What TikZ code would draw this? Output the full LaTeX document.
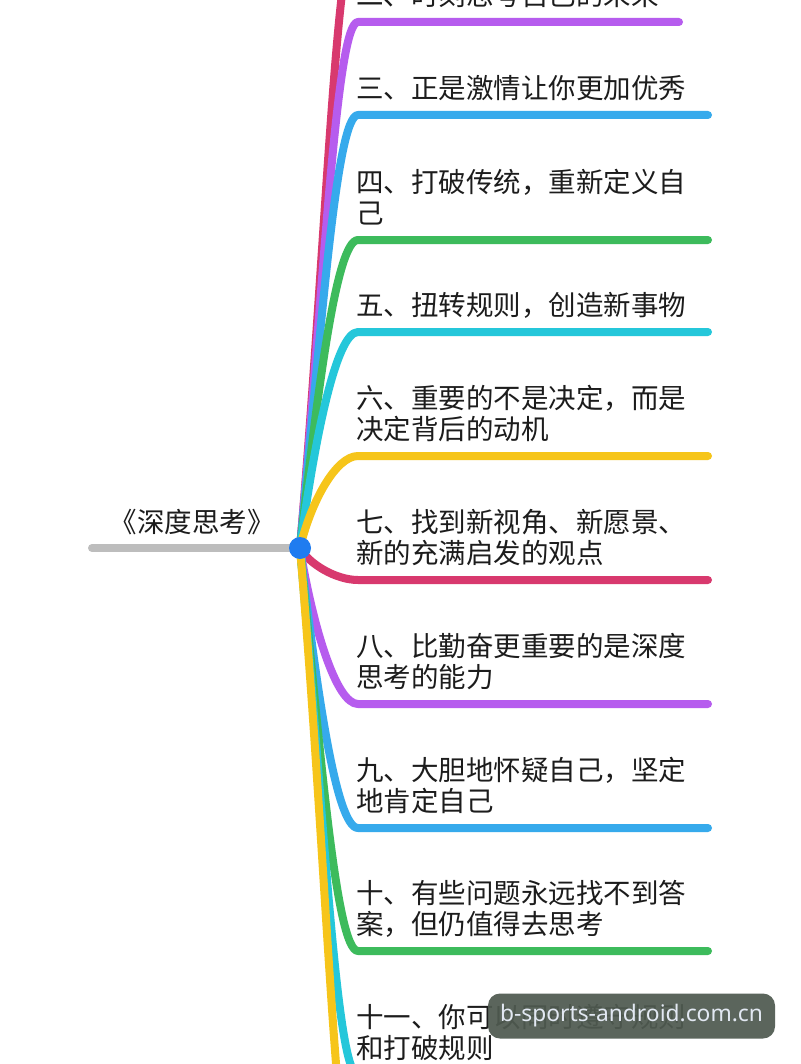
\documentclass[tikz,border=0pt]{standalone}
\usepackage{fontspec}
\setmainfont{Noto Sans CJK SC}
\newfontfamily\markfont{Noto Sans}
\usepackage{tikz}
\usetikzlibrary{calc}
\definecolor{brred}{HTML}{D8396E}
\definecolor{brpurple}{HTML}{B65CEE}
\definecolor{brblue}{HTML}{36AAEC}
\definecolor{brgreen}{HTML}{3DBB5C}
\definecolor{brcyan}{HTML}{25C7DA}
\definecolor{bryellow}{HTML}{F6C51A}
\definecolor{rootgray}{HTML}{BDBDBD}
\definecolor{hubblue}{HTML}{1F7CF0}
\definecolor{inkgray}{HTML}{1C1C1C}
\definecolor{markbg}{HTML}{4F5A50}
\definecolor{markink}{HTML}{E2E8F2}
\tikzset{
  branch/.style={line width=4pt, line cap=round, line join=round},
  rootline/.style={line width=4pt, line cap=round, draw=rootgray},
  hubdot/.style={circle, fill=hubblue, inner sep=0pt, minimum size=11pt},
  leaf/.style={
    inner sep=0pt, align=left, anchor=base west, text=inkgray,
    font=\fontsize{13.75}{15.5}\selectfont
  },
  rootlabel/.style={inner sep=0pt, anchor=base, text=inkgray,
    font=\fontsize{13.75}{15.5}\selectfont},
  markbox/.style={
    rectangle, rounded corners=6pt, fill=markbg, fill opacity=0.93,
    text opacity=1, text=markink, minimum width=143.5pt, minimum height=22.5pt,
    font=\markfont\fontsize{11.4}{13}\selectfont
  },
}
\begin{document}
\begin{tikzpicture}[x=0.5pt, y=-0.5pt]
  \clip (0,0) rectangle (800,1064);
  \fill[white] (0,0) rectangle (800,1064);

  \coordinate (hub) at (300,548);
  \coordinate (rootend) at (92,548);
  \draw[rootline] (rootend) -- (hub);
  \node[rootlabel] (root) at (192,532) {《深度思考》};

  \foreach \yt/\col/\xe [count=\i] in {-71/brred/708, 22/brpurple/679,
      115/brblue/708, 240/brgreen/708, 332/brcyan/708, 456/bryellow/708,
      580/brred/708, 704/brpurple/708, 828/brblue/708, 951/brgreen/708,
      1075/brcyan/708, 1199/bryellow/708}{
    \pgfmathsetmacro\ax{308+0.03*abs(\yt-548)}
    \pgfmathsetmacro\ay{548+0.5*(\yt-548)}
    \coordinate (s\i) at (358,\yt);
    \coordinate (e\i) at (\xe,\yt);
    \draw[branch, draw=\col] (hub) .. controls (\ax,\ay) and (336,\yt) .. (s\i) -- (e\i);
  }
  \node[hubdot] (dot) at (hub) {};

  \node[leaf] (t2) at (356,5.5) {二、时刻思考自己的未来};
  \node[leaf] (t3) at (356,98.5) {三、正是激情让你更加优秀};
  \node[leaf] (t4) at (356,223.5) {四、打破传统，重新定义自\\己};
  \node[leaf] (t5) at (356,315.5) {五、扭转规则，创造新事物};
  \node[leaf] (t6) at (356,439.5) {六、重要的不是决定，而是\\决定背后的动机};
  \node[leaf] (t7) at (356,563.5) {七、找到新视角、新愿景、\\新的充满启发的观点};
  \node[leaf] (t8) at (356,687.5) {八、比勤奋更重要的是深度\\思考的能力};
  \node[leaf] (t9) at (356,811.5) {九、大胆地怀疑自己，坚定\\地肯定自己};
  \node[leaf] (t10) at (356,934.5) {十、有些问题永远找不到答\\案，但仍值得去思考};
  \node[leaf] (t11) at (356,1058.5) {十一、你可以同时遵守规则\\和打破规则};

  \node[markbox] (mark) at (631.5,1016) {b-sports-android.com.cn};
\end{tikzpicture}
\end{document}
